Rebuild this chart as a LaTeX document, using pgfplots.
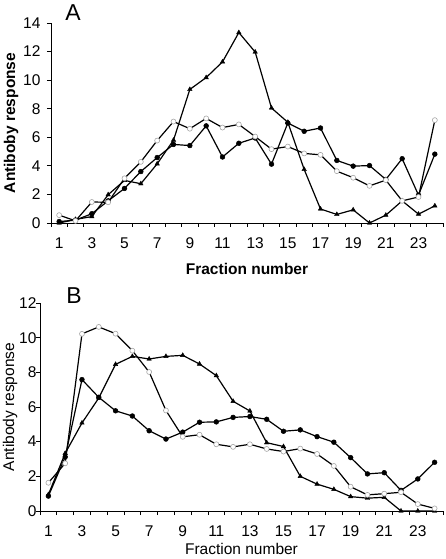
\documentclass[border=0pt]{standalone}
\usepackage{fontspec}
\setmainfont{Liberation Sans}
\usepackage{pgfplots}
\pgfplotsset{compat=1.18}
\pgfplotstableread{
x fc oc tr
1 0.10 0.55 0.00
2 0.20 0.15 0.25
3 0.65 1.47 0.45
4 1.55 1.45 1.98
5 2.42 3.13 2.98
6 3.60 4.28 2.75
7 4.58 5.77 4.14
8 5.50 7.10 5.80
9 5.42 6.60 9.35
10 6.80 7.32 10.18
11 4.62 6.68 11.28
12 5.58 6.90 13.33
13 5.95 6.05 11.97
14 4.12 5.17 8.05
15 7.00 5.35 7.05
16 6.42 4.87 3.75
17 6.65 4.77 0.98
18 4.38 3.63 0.60
19 3.98 3.17 0.92
20 4.02 2.60 0.00
21 3.05 3.00 0.55
22 4.50 1.55 1.55
23 1.95 1.82 0.62
24 4.82 7.20 1.20
}\dataA
\pgfplotstableread{
x fc oc tr
1 0.86 1.63 0.95
2 3.12 2.75 3.33
3 7.58 10.22 5.08
4 6.56 10.62 6.52
5 5.78 10.23 8.46
6 5.48 9.25 8.92
7 4.63 8.02 8.77
8 4.15 5.80 8.92
9 4.55 4.28 8.98
10 5.12 4.40 8.48
11 5.14 3.85 7.81
12 5.40 3.70 6.33
13 5.45 3.85 5.77
14 5.29 3.58 3.94
15 4.60 3.43 3.72
16 4.68 3.60 2.00
17 4.29 3.29 1.55
18 3.97 2.60 1.25
19 3.08 1.40 0.83
20 2.14 0.93 0.74
21 2.21 1.00 0.79
22 1.19 1.08 0.00
23 1.85 0.40 0.00
24 2.81 0.15 0.00
}\dataB
\newcommand{\tfont}{\fontsize{15.5}{18}\selectfont}
\pgfplotsset{
  myaxis/.style={
    scale only axis,
    axis lines*=left,
    axis line style={-, black, line width=0.8pt},
    xmin=0.5, xmax=24.5,
    xtick={1,3,...,23},
    minor xtick={0.5,1.5,...,24.5},
    major x tick style={draw=none},
    minor tick length=4pt,
    major tick length=4pt,
    tick align=outside,
    tick style={black, line width=0.8pt},
    /pgf/number format/assume math mode=true,
    xticklabel={\tfont\pgfmathprintnumber{\tick}},
    yticklabel={\tfont\pgfmathprintnumber{\tick}},
    tick label style={font=\tfont},
    xticklabel style={yshift=-7pt},
    label style={font=\tfont},
    clip=false,
    every axis plot/.append style={line width=1.2pt, black},
  },
  fcs/.style={mark=*, mark size=2.4pt, mark options={fill=black, draw=black, line width=0.5pt}},
  ocs/.style={mark=*, mark size=2.5pt, mark options={fill=white, draw=gray!70, line width=0.6pt}},
  trs/.style={mark=triangle*, mark size=2.6pt, mark options={fill=black, draw=black, line width=0.4pt}},
}
\begin{document}
\begin{tikzpicture}
\path[use as bounding box] (0,0) rectangle (446pt,559pt);
\begin{axis}[myaxis,
  at={(51pt,336pt)}, anchor=south west,
  width=392pt, height=200pt,
  ymin=0, ymax=14, ytick={0,2,...,14},
  yticklabel style={xshift=-3pt},
  xlabel={\bfseries Fraction number},
  ylabel={\bfseries Antiboby response},
  xlabel style={at={(rel axis cs:0.5,0)}, anchor=center, yshift=-46pt},
  ylabel style={at={(rel axis cs:0,0.5)}, anchor=center, yshift=40pt},
]
\addplot[fcs] table[x=x,y=fc]{\dataA};
\addplot[trs] table[x=x,y=tr]{\dataA};
\addplot[ocs] table[x=x,y=oc]{\dataA};
\end{axis}
\node[font=\fontsize{23}{26}\selectfont] at (73pt,546pt) {A};
\begin{axis}[myaxis,
  at={(40pt,48pt)}, anchor=south west,
  width=403pt, height=208pt,
  ymin=0, ymax=12, ytick={0,2,...,12},
  yticklabel style={xshift=4pt},
  xlabel={Fraction number},
  ylabel={Antibody response},
  xlabel style={at={(rel axis cs:0.5,0)}, anchor=center, yshift=-38pt},
  ylabel style={at={(rel axis cs:0,0.5)}, anchor=center, yshift=30pt},
]
\addplot[fcs] table[x=x,y=fc]{\dataB};
\addplot[trs] table[x=x,y=tr]{\dataB};
\addplot[ocs] table[x=x,y=oc]{\dataB};
\end{axis}
\node[font=\fontsize{23}{26}\selectfont] at (74pt,263pt) {B};
\end{tikzpicture}
\end{document}
